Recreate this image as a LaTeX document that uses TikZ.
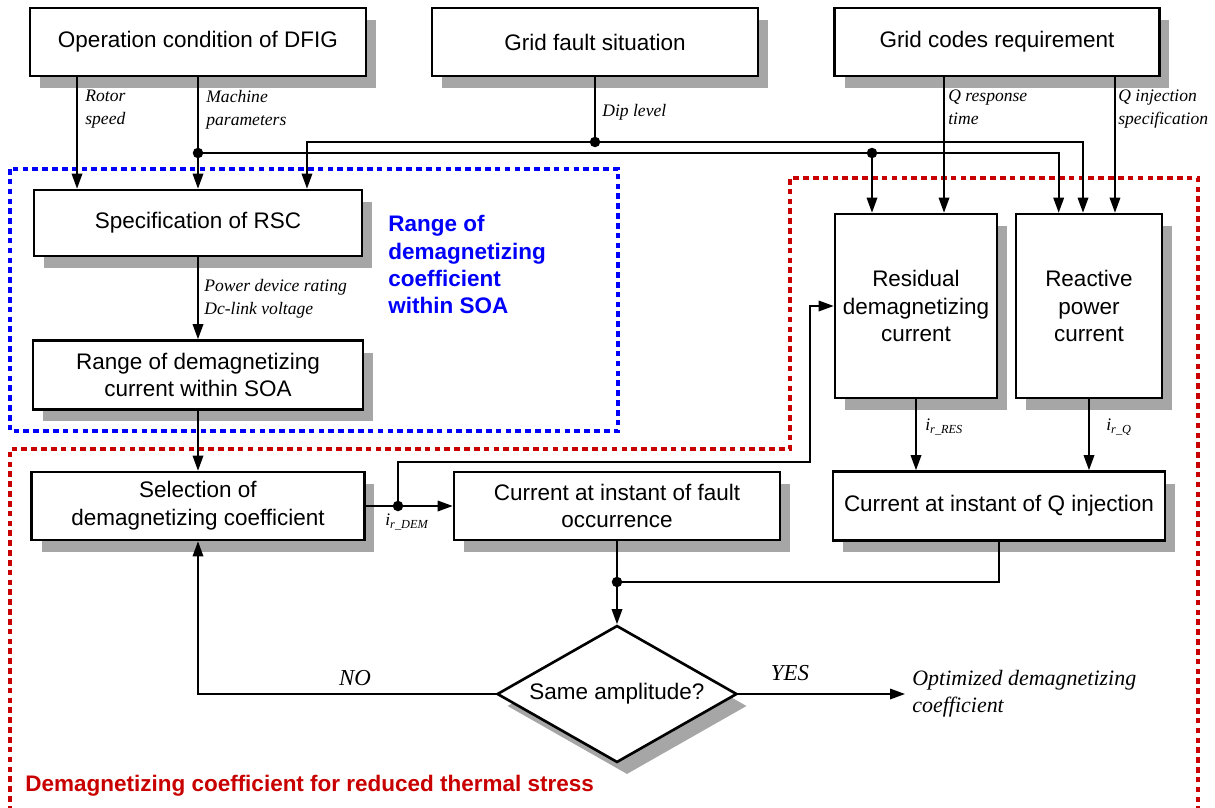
\documentclass[tikz,border=0pt]{standalone}
\usepackage{fontspec}
\setmainfont{Liberation Serif}
\setsansfont{Liberation Sans}
\usepackage{xcolor}
\usepackage{tikz}
\usetikzlibrary{shapes.geometric, shadows, arrows.meta}

\definecolor{shadowgray}{RGB}{166,166,166}
\definecolor{soablue}{RGB}{0,0,250}
\definecolor{stressred}{RGB}{200,0,0}

\begin{document}
\begin{tikzpicture}[x=0.02cm, y=-0.02cm,
    block/.style={draw, line width=1.5pt, rectangle, fill=white, align=center, inner sep=2pt,
        font=\sffamily\fontsize{12.8}{15.8}\selectfont,
        drop shadow={shadow xshift=0.2cm, shadow yshift=-0.24cm, fill=shadowgray, opacity=1}},
    decision/.style={draw, line width=1.5pt, diamond, fill=white, aspect=1.75, inner sep=0pt,
        minimum width=4.8cm, minimum height=2.74cm, font=\sffamily\fontsize{12.8}{15.8}\selectfont,
        drop shadow={shadow xshift=0.2cm, shadow yshift=-0.24cm, fill=shadowgray, opacity=1}},
    sig/.style={font=\itshape\fontsize{10}{13}\selectfont, align=left, inner sep=0pt},
    arr/.style={line width=1pt, -{Triangle[length=3mm, width=2.1mm]}},
    wire/.style={line width=1pt},
    dot/.style={circle, fill=black, inner sep=0pt, minimum size=0.21cm},
    region/.style={line width=1.9pt, dash pattern=on 3.2pt off 2.4pt}]

    \useasboundingbox (0, 0) rectangle (1215, 808);

    \draw[region, soablue] (10, 169) rectangle (618, 431);
    \draw[region, stressred] (1198, 812) -- (1198, 178) -- (790, 178) -- (790, 449) -- (10, 449) -- (10, 812);

    \node[block, minimum width=6.72cm, minimum height=1.36cm] at (198, 42) (op) {Operation condition of DFIG};
    \node[block, minimum width=6.52cm, minimum height=1.36cm] at (595, 42) (fault) {Grid fault situation};
    \node[block, minimum width=6.5cm, minimum height=1.36cm] at (997, 42) (codes) {Grid codes requirement};
    \node[block, minimum width=6.56cm, minimum height=1.32cm] at (198, 223) (rsc) {Specification of RSC};
    \node[block, minimum width=6.6cm, minimum height=1.38cm] at (198, 375) (range) {Range of demagnetizing\\current within SOA};
    \node[block, minimum width=6.66cm, minimum height=1.36cm] at (198, 506) (select) {Selection of\\demagnetizing coefficient};
    \node[block, minimum width=6.52cm, minimum height=1.36cm] at (617, 506) (occur) {Current at instant of fault\\occurrence};
    \node[block, minimum width=3.24cm, minimum height=3.68cm] at (916, 306) (resid) {Residual\\demagnetizing\\current};
    \node[block, minimum width=2.92cm, minimum height=3.68cm] at (1089, 306) (react) {Reactive\\power\\current};
    \node[block, minimum width=6.64cm, minimum height=1.38cm] at (999, 506) (qinj) {Current at instant of Q injection};
    \node[decision] at (617, 694) (same) {Same amplitude?};

    \node[anchor=north west, align=left, inner sep=0pt, text=soablue,
        font=\sffamily\bfseries\fontsize{12.8}{15.6}\selectfont] at (388, 215) (soatext)
        {Range of\\demagnetizing\\coefficient\\within SOA};
    \node[anchor=west, inner sep=0pt, text=stressred,
        font=\sffamily\bfseries\fontsize{12.8}{15.6}\selectfont] at (25, 786) (stresstext)
        {Demagnetizing coefficient for reduced thermal stress};
    \node[anchor=west, align=left, inner sep=0pt, font=\itshape\fontsize{12.5}{15.5}\selectfont]
        at (912, 694) (opt) {Optimized demagnetizing\\coefficient};

    \coordinate (rotorin) at ([xshift=-2.42cm]op.south);
    \coordinate (jmach) at (198, 153);
    \coordinate (jdip) at (595, 142);
    \coordinate (jres) at (872, 153);
    \coordinate (qresp) at ([xshift=-1.06cm]codes.south);
    \coordinate (qspec) at ([xshift=2.36cm]codes.south);
    \coordinate (jdem) at (398, 506);
    \coordinate (bend) at (810, 462);
    \coordinate (jsum) at (617, 582);

    \draw[arr] (rotorin) -- (rotorin |- rsc.north);
    \draw[arr] (op.south) -- (rsc.north);
    \draw[arr] (jmach) -| ([xshift=0.88cm]react.north west);
    \draw[arr] (jres) -- (jres |- resid.north);
    \draw[wire] (fault.south) -- (jdip);
    \draw[arr] (jdip) -| ([xshift=2.18cm]rsc.north);
    \draw[arr] (jdip) -| ([xshift=-0.12cm]react.north);
    \draw[arr] (qresp) -- (qresp |- resid.north);
    \draw[arr] (qspec) -- (qspec |- react.north);
    \draw[arr] (rsc) -- (range);
    \draw[arr] (range) -- (select);
    \draw[arr] (select) -- (occur);
    \draw[arr] (jdem) |- (bend) |- (resid.west);
    \draw[arr] (resid.south) -- (resid.south |- qinj.north);
    \draw[arr] (react.south) -- (react.south |- qinj.north);
    \draw[wire] (qinj.south) |- (jsum);
    \draw[arr] (occur) -- (same);
    \draw[arr] (same.west) -| (select.south);
    \draw[arr] (same.east) -- ([xshift=-0.14cm]opt.west);

    \node[dot] at (jmach) {};
    \node[dot] at (jdip) {};
    \node[dot] at (jres) {};
    \node[dot] at (jdem) {};
    \node[dot] at (jsum) {};

    \node[sig, anchor=north west] at (85, 90) (rotorlbl) {Rotor\\speed};
    \node[sig, anchor=north west] at (206, 90) (machlbl) {Machine\\parameters};
    \node[sig, anchor=west] at (602, 112) (diplbl) {Dip level};
    \node[sig, anchor=north west] at (948, 90) (qresplbl) {Q response\\time};
    \node[sig, anchor=north west] at (1118, 90) (qspeclbl) {Q injection\\specification};
    \node[sig, anchor=north west] at (204, 279) (powlbl) {Power device rating\\Dc-link voltage};
    \node[sig, anchor=north west] at (385, 514) (demlbl) {\textit{i}\textsubscript{\textit{r\_DEM}}};
    \node[sig, anchor=north west] at (925, 419) (reslbl) {\textit{i}\textsubscript{\textit{r\_RES}}};
    \node[sig, anchor=north west] at (1106, 419) (qlbl) {\textit{i}\textsubscript{\textit{r\_Q}}};
    \node[font=\itshape\fontsize{13}{15}\selectfont] at (355, 678) (nolbl) {NO};
    \node[font=\itshape\fontsize{13}{15}\selectfont] at (790, 673) (yeslbl) {YES};
\end{tikzpicture}
\end{document}
